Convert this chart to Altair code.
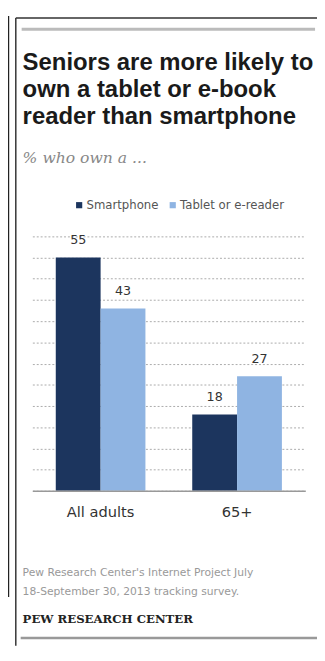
import altair as alt
import pandas as pd

# ---- data ----
groups = ["All adults", "65+"]
series = ["Smartphone", "Tablet or e-reader"]
smartphone = [55, 18]
tablet = [43, 27]
y_ticks = [0, 5, 10, 15, 20, 25, 30, 35, 40, 45, 50, 55, 60]

title_lines = ["Seniors are more likely to", "own a tablet or e-book", "reader than smartphone"]
subtitle = "% who own a ..."
source_lines = ["Pew Research Center's Internet Project July", "18-September 30, 2013 tracking survey."]
credit = "PEW RESEARCH CENTER"
colors = ["#1c355e", "#8fb4e2"]

rows = []
for g, s, t in zip(groups, smartphone, tablet):
    rows.append({"group": g, "series": series[0], "value": s})
    rows.append({"group": g, "series": series[1], "value": t})
df = pd.DataFrame(rows)

x = alt.X(
    "group:N", sort=groups, title=None,
    scale=alt.Scale(paddingInner=0.343, paddingOuter=0.1715),
    axis=alt.Axis(labelAngle=0, ticks=False, domainColor="#999999", domainWidth=1.5,
                  labelFont="DejaVu Sans", labelFontSize=15, labelColor="#333333",
                  labelPadding=14, grid=False, zindex=1),
)
xo = alt.XOffset("series:N", sort=series, scale=alt.Scale(paddingInner=0, paddingOuter=0))
y = alt.Y(
    "value:Q", title=None,
    scale=alt.Scale(domain=[0, 60], nice=False, zero=True),
    axis=alt.Axis(values=y_ticks, labels=False, ticks=False, domain=False, grid=True,
                  gridColor="#aaaaaa", gridDash=[2, 2], gridWidth=1),
)
color = alt.Color(
    "series:N", sort=series,
    scale=alt.Scale(domain=series, range=colors),
    legend=alt.Legend(title=None, orient="none", legendX=42, legendY=-38,
                      direction="horizontal", symbolType="square", symbolSize=40,
                      labelFont="DejaVu Sans", labelFontSize=12, labelColor="#555555",
                      labelOffset=1.5, columnPadding=8, padding=0, symbolStrokeWidth=0),
)

bars = alt.Chart(df).mark_bar().encode(x=x, xOffset=xo, y=y, color=color)
labels = alt.Chart(df).mark_text(
    font="DejaVu Sans", fontSize=13, color="#333333", dy=-14, baseline="alphabetic"
).encode(x=x, xOffset=xo, y=y, text=alt.Text("value:Q"))

one = alt.Data(values=[{}])


def rule(x1, x2, y1, y2, col, w):
    return alt.Chart(one).mark_rule(color=col, strokeWidth=w).encode(
        x=alt.value(x1), x2=alt.value(x2), y=alt.value(y1), y2=alt.value(y2)
    )


def text(lines, x0, y0, font, size, col, weight="normal", style="normal", lh=20):
    return alt.Chart(one).mark_text(
        text=lines, align="left", baseline="alphabetic", font=font, fontSize=size,
        fontWeight=weight, fontStyle=style, color=col, lineHeight=lh
    ).encode(x=alt.value(x0), y=alt.value(y0))


deco = [
    rule(-24.5, -24.5, -226, 370, "#222222", 1.5),     # left box edge
    rule(-17, -17, -224, 420, "#333333", 1.5),          # card left border
    rule(-17, 300, -224, -224, "#333333", 1.5),         # card top border
    rule(-11, 290, -212.5, -212.5, "#bbbbbb", 3),       # gray header bar
    rule(-12, 300, 412, 412, "#999999", 2.5),           # bottom line
]

texts = [
    text(title_lines, -10, -171, "Liberation Sans", 24.5, "#1a1a1a", weight="bold", lh=28),
    text(subtitle, -10, -75, "DejaVu Serif", 16, "#888888", style="italic"),
    text(source_lines, -10, 348, "DejaVu Sans", 11, "#999999", lh=20),
    text(credit, -10, 397, "DejaVu Serif", 12, "#222222", weight="bold"),
]

chart = alt.layer(*deco, bars, labels, *texts).properties(
    width=280, height=261,
    padding={"left": 25, "top": 226, "right": 12, "bottom": 153},
    autosize=alt.AutoSizeParams(type="none"),
).configure_view(stroke=None)

chart.save("out.html", embed_options={"renderer": "svg", "actions": False})
